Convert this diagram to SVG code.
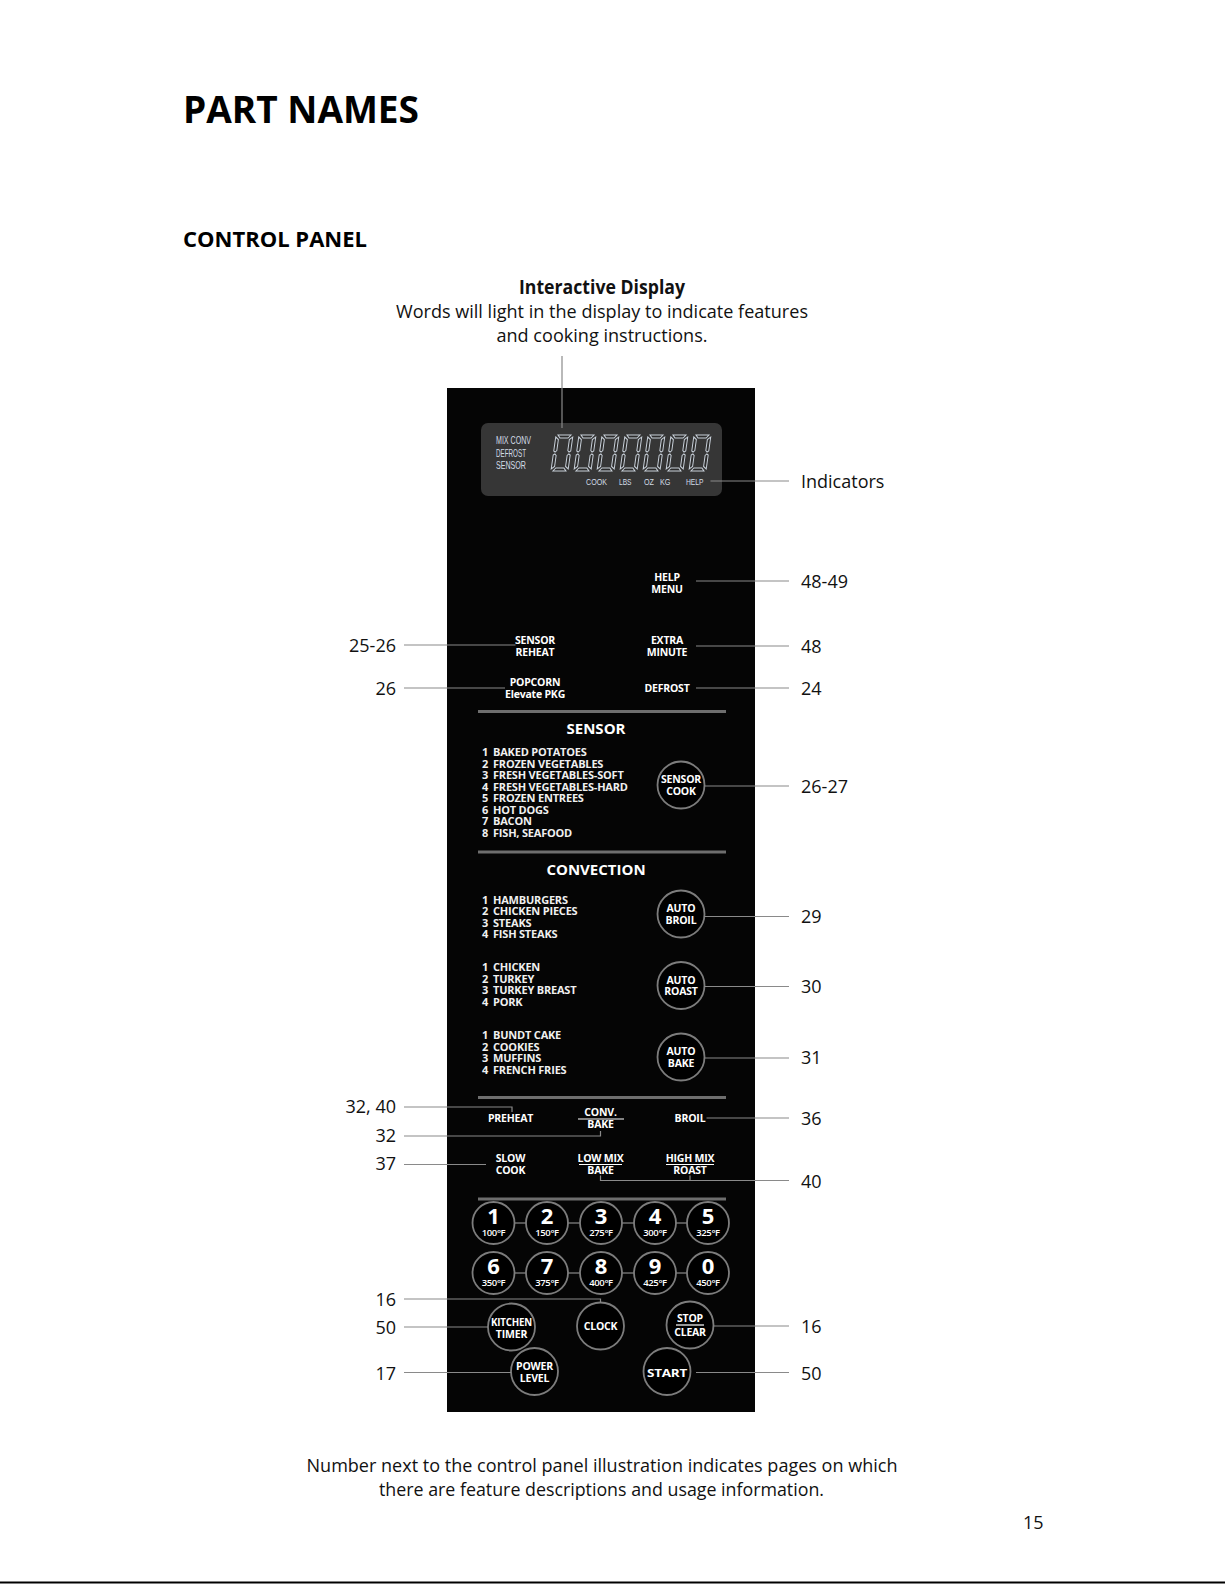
<svg xmlns="http://www.w3.org/2000/svg" width="1225" height="1585" viewBox="0 0 1225 1585">
<style>
text{font-family:"Open Sans","Noto Sans","Liberation Sans",sans-serif}
.h1{font-size:37px;font-weight:700;fill:#000}
.h2{font-size:22px;font-weight:700;fill:#000}
.cap{font-size:19px;fill:#111;text-anchor:middle}
.capb{font-size:19px;font-weight:700;fill:#111;text-anchor:middle}
.num{font-size:18px;fill:#111}
.numr{font-size:18px;fill:#111;text-anchor:end}
.pl{font-size:10.5px;font-weight:700;fill:#fff;text-anchor:middle;letter-spacing:-0.2px}
.hd{font-size:15px;font-weight:700;fill:#fff;text-anchor:middle}
.li{font-size:11px;font-weight:700;fill:#f0f0f0;letter-spacing:-0.2px}
.dg{font-size:22px;font-weight:700;fill:#fff;text-anchor:middle}
.tp{font-size:9.5px;font-weight:600;fill:#fff;text-anchor:middle;letter-spacing:-0.4px}
.ds{font-family:"Liberation Sans","DejaVu Sans Condensed",sans-serif;font-size:10.5px;fill:#d3dce6}
.dsb{font-family:"Liberation Sans","DejaVu Sans Condensed",sans-serif;font-size:9.5px;fill:#d3dce6}
.btn{fill:#000;stroke:#7c7c7c;stroke-width:1.8}
.sep{stroke:#6e6e6e;stroke-width:3}
.ul{stroke:#fff;stroke-width:1.2}
.con{fill:none;stroke:#8a8a8a;stroke-width:1.2}
.seg{fill:#2c2c2c;stroke:#c9d1da;stroke-width:1}
</style>
<defs>
<g id="digit">
<path class="seg" d="M2,0 H15 L12.5,3 H4.5 Z"/>
<path class="seg" d="M0,2 L3,4.5 V15.5 L1.5,17 L0,16 Z"/>
<path class="seg" d="M17,2 V16 L15.5,17 L14,15.5 V4.5 Z"/>
<path class="seg" d="M0,20 L1.5,19 L3,20.5 V31.5 L0,34 Z"/>
<path class="seg" d="M17,20 V34 L14,31.5 V20.5 L15.5,19 Z"/>
<path class="seg" d="M2,36 H15 L12.5,33 H4.5 Z"/>
</g>
</defs>

<rect x="0" y="0" width="1225" height="1585" fill="#fff"/>

<g id="titles">
<text class="h1" x="183" y="123" textLength="236" lengthAdjust="spacingAndGlyphs">PART NAMES</text>
<text class="h2" x="183" y="247" textLength="184" lengthAdjust="spacingAndGlyphs">CONTROL PANEL</text>
</g>

<g id="interactive-display-caption">
<text class="capb" x="602" y="294" textLength="166" lengthAdjust="spacingAndGlyphs">Interactive Display</text>
<text class="cap" x="602" y="318" textLength="412" lengthAdjust="spacingAndGlyphs">Words will light in the display to indicate features</text>
<text class="cap" x="602" y="342" textLength="211" lengthAdjust="spacingAndGlyphs">and cooking instructions.</text>
</g>

<g id="panel">
<rect x="447" y="388" width="308" height="1024" fill="#050505"/>
<line class="sep" x1="478" y1="711.5" x2="726" y2="711.5"/>
<line class="sep" x1="478" y1="852" x2="726" y2="852"/>
<line class="sep" x1="478" y1="1097.5" x2="726" y2="1097.5"/>
<line class="sep" x1="478" y1="1199" x2="726" y2="1199"/>
</g>

<g id="display">
<rect x="481" y="423" width="241" height="73" rx="7" fill="#363636"/>
<text class="ds" x="496" y="444" textLength="35" lengthAdjust="spacingAndGlyphs">MIX CONV</text>
<text class="ds" x="496" y="456.5" textLength="30" lengthAdjust="spacingAndGlyphs">DEFROST</text>
<text class="ds" x="496" y="469" textLength="30" lengthAdjust="spacingAndGlyphs">SENSOR</text>
<use href="#digit" transform="translate(556,435) skewX(-8)"/>
<use href="#digit" transform="translate(579,435) skewX(-8)"/>
<use href="#digit" transform="translate(602,435) skewX(-8)"/>
<use href="#digit" transform="translate(625,435) skewX(-8)"/>
<use href="#digit" transform="translate(648,435) skewX(-8)"/>
<use href="#digit" transform="translate(671,435) skewX(-8)"/>
<use href="#digit" transform="translate(694,435) skewX(-8)"/>
<text class="dsb" x="586" y="484.5" textLength="21" lengthAdjust="spacingAndGlyphs">COOK</text>
<text class="dsb" x="619" y="484.5" textLength="12.5" lengthAdjust="spacingAndGlyphs">LBS</text>
<text class="dsb" x="644" y="484.5" textLength="10" lengthAdjust="spacingAndGlyphs">OZ</text>
<text class="dsb" x="660" y="484.5" textLength="10.5" lengthAdjust="spacingAndGlyphs">KG</text>
<text class="dsb" x="686" y="484.5" textLength="17.5" lengthAdjust="spacingAndGlyphs">HELP</text>
</g>

<g id="help-menu"><text class="pl" x="667" y="581">HELP</text><text class="pl" x="667" y="593">MENU</text></g>
<g id="sensor-reheat"><text class="pl" x="535" y="644">SENSOR</text><text class="pl" x="535" y="656">REHEAT</text></g>
<g id="extra-minute"><text class="pl" x="667" y="644">EXTRA</text><text class="pl" x="667" y="656">MINUTE</text></g>
<g id="popcorn"><text class="pl" x="535" y="686">POPCORN</text><text class="pl" x="535" y="698">Elevate PKG</text></g>
<g id="defrost"><text class="pl" x="667" y="692">DEFROST</text></g>

<g id="sensor-section">
<text class="hd" x="596" y="734">SENSOR</text>
<text class="li" y="756"><tspan x="482">1</tspan><tspan x="493">BAKED POTATOES</tspan></text>
<text class="li" y="767.5"><tspan x="482">2</tspan><tspan x="493">FROZEN VEGETABLES</tspan></text>
<text class="li" y="779"><tspan x="482">3</tspan><tspan x="493">FRESH VEGETABLES-SOFT</tspan></text>
<text class="li" y="790.5"><tspan x="482">4</tspan><tspan x="493">FRESH VEGETABLES-HARD</tspan></text>
<text class="li" y="802"><tspan x="482">5</tspan><tspan x="493">FROZEN ENTREES</tspan></text>
<text class="li" y="813.5"><tspan x="482">6</tspan><tspan x="493">HOT DOGS</tspan></text>
<text class="li" y="825"><tspan x="482">7</tspan><tspan x="493">BACON</tspan></text>
<text class="li" y="836.5"><tspan x="482">8</tspan><tspan x="493">FISH, SEAFOOD</tspan></text>
</g>
<g id="sensor-cook"><circle class="btn" cx="681" cy="785" r="23.5"/><text class="pl" x="681" y="783">SENSOR</text><text class="pl" x="681" y="794.5">COOK</text></g>

<g id="convection-section">
<text class="hd" x="596" y="875">CONVECTION</text>
<text class="li" y="903.5"><tspan x="482">1</tspan><tspan x="493">HAMBURGERS</tspan></text>
<text class="li" y="915"><tspan x="482">2</tspan><tspan x="493">CHICKEN PIECES</tspan></text>
<text class="li" y="926.5"><tspan x="482">3</tspan><tspan x="493">STEAKS</tspan></text>
<text class="li" y="938"><tspan x="482">4</tspan><tspan x="493">FISH STEAKS</tspan></text>
<text class="li" y="971"><tspan x="482">1</tspan><tspan x="493">CHICKEN</tspan></text>
<text class="li" y="982.5"><tspan x="482">2</tspan><tspan x="493">TURKEY</tspan></text>
<text class="li" y="994"><tspan x="482">3</tspan><tspan x="493">TURKEY BREAST</tspan></text>
<text class="li" y="1005.5"><tspan x="482">4</tspan><tspan x="493">PORK</tspan></text>
<text class="li" y="1039"><tspan x="482">1</tspan><tspan x="493">BUNDT CAKE</tspan></text>
<text class="li" y="1050.5"><tspan x="482">2</tspan><tspan x="493">COOKIES</tspan></text>
<text class="li" y="1062"><tspan x="482">3</tspan><tspan x="493">MUFFINS</tspan></text>
<text class="li" y="1073.5"><tspan x="482">4</tspan><tspan x="493">FRENCH FRIES</tspan></text>
</g>
<g id="auto-broil"><circle class="btn" cx="681" cy="914" r="23.5"/><text class="pl" x="681" y="912">AUTO</text><text class="pl" x="681" y="923.5">BROIL</text></g>
<g id="auto-roast"><circle class="btn" cx="681" cy="985.5" r="23.5"/><text class="pl" x="681" y="983.5">AUTO</text><text class="pl" x="681" y="995">ROAST</text></g>
<g id="auto-bake"><circle class="btn" cx="681" cy="1057" r="23.5"/><text class="pl" x="681" y="1055">AUTO</text><text class="pl" x="681" y="1066.5">BAKE</text></g>

<g id="preheat"><text class="pl" x="510.5" y="1122">PREHEAT</text></g>
<g id="conv-bake"><text class="pl" x="600.5" y="1116">CONV.</text><line class="ul" x1="578" y1="1119" x2="624" y2="1119"/><text class="pl" x="600.5" y="1128">BAKE</text></g>
<g id="broil"><text class="pl" x="690" y="1122">BROIL</text></g>
<g id="slow-cook"><text class="pl" x="510.5" y="1162">SLOW</text><text class="pl" x="510.5" y="1173.5">COOK</text></g>
<g id="low-mix-bake"><text class="pl" x="600.5" y="1162">LOW MIX</text><line class="ul" x1="579" y1="1164.5" x2="622" y2="1164.5"/><text class="pl" x="600.5" y="1173.5">BAKE</text></g>
<g id="high-mix-roast"><text class="pl" x="690" y="1162">HIGH MIX</text><line class="ul" x1="666" y1="1164.5" x2="714" y2="1164.5"/><text class="pl" x="690" y="1173.5">ROAST</text></g>

<g id="number-links">
<line class="con" x1="514.5" y1="1223" x2="526" y2="1223"/>
<line class="con" x1="568" y1="1223" x2="580" y2="1223"/>
<line class="con" x1="622" y1="1223" x2="634" y2="1223"/>
<line class="con" x1="676" y1="1223" x2="687" y2="1223"/>
<line class="con" x1="514.5" y1="1273" x2="526" y2="1273"/>
<line class="con" x1="568" y1="1273" x2="580" y2="1273"/>
<line class="con" x1="622" y1="1273" x2="634" y2="1273"/>
<line class="con" x1="676" y1="1273" x2="687" y2="1273"/>
</g>
<g id="key-1"><circle class="btn" cx="493.5" cy="1223" r="21"/><text class="dg" x="493.5" y="1223.5">1</text><text class="tp" x="493.5" y="1236">100°F</text></g>
<g id="key-2"><circle class="btn" cx="547" cy="1223" r="21"/><text class="dg" x="547" y="1223.5">2</text><text class="tp" x="547" y="1236">150°F</text></g>
<g id="key-3"><circle class="btn" cx="601" cy="1223" r="21"/><text class="dg" x="601" y="1223.5">3</text><text class="tp" x="601" y="1236">275°F</text></g>
<g id="key-4"><circle class="btn" cx="655" cy="1223" r="21"/><text class="dg" x="655" y="1223.5">4</text><text class="tp" x="655" y="1236">300°F</text></g>
<g id="key-5"><circle class="btn" cx="708" cy="1223" r="21"/><text class="dg" x="708" y="1223.5">5</text><text class="tp" x="708" y="1236">325°F</text></g>
<g id="key-6"><circle class="btn" cx="493.5" cy="1273" r="21"/><text class="dg" x="493.5" y="1273.5">6</text><text class="tp" x="493.5" y="1286">350°F</text></g>
<g id="key-7"><circle class="btn" cx="547" cy="1273" r="21"/><text class="dg" x="547" y="1273.5">7</text><text class="tp" x="547" y="1286">375°F</text></g>
<g id="key-8"><circle class="btn" cx="601" cy="1273" r="21"/><text class="dg" x="601" y="1273.5">8</text><text class="tp" x="601" y="1286">400°F</text></g>
<g id="key-9"><circle class="btn" cx="655" cy="1273" r="21"/><text class="dg" x="655" y="1273.5">9</text><text class="tp" x="655" y="1286">425°F</text></g>
<g id="key-0"><circle class="btn" cx="708" cy="1273" r="21"/><text class="dg" x="708" y="1273.5">0</text><text class="tp" x="708" y="1286">450°F</text></g>

<g id="kitchen-timer"><circle class="btn" cx="511.5" cy="1327" r="23.5"/><text class="pl" x="511.5" y="1326" textLength="41" lengthAdjust="spacingAndGlyphs">KITCHEN</text><text class="pl" x="511.5" y="1338">TIMER</text></g>
<g id="clock"><circle class="btn" cx="600.5" cy="1326" r="23.5"/><text class="pl" x="600.5" y="1330" font-size="11">CLOCK</text></g>
<g id="stop-clear"><circle class="btn" cx="690" cy="1325" r="23.5"/><text class="pl" x="690" y="1322">STOP</text><line class="ul" x1="676" y1="1325" x2="704" y2="1325"/><text class="pl" x="690" y="1336">CLEAR</text></g>
<g id="power-level"><circle class="btn" cx="534.5" cy="1371.5" r="23.5"/><text class="pl" x="534.5" y="1369.5">POWER</text><text class="pl" x="534.5" y="1381.5">LEVEL</text></g>
<g id="start"><circle class="btn" cx="667" cy="1371.5" r="23.5"/><text class="pl" x="667" y="1376.5" font-size="14" textLength="40" lengthAdjust="spacingAndGlyphs">START</text></g>

<g id="connectors">
<path class="con" d="M562,356 V428"/>
<path class="con" d="M710.5,481 H789"/>
<path class="con" d="M696,581 H789"/>
<path class="con" d="M696,646 H789"/>
<path class="con" d="M696,688 H789"/>
<path class="con" d="M404,645 H515.5"/>
<path class="con" d="M404,688 H505"/>
<path class="con" d="M704.5,786 H789"/>
<path class="con" d="M704.5,916.5 H789"/>
<path class="con" d="M704.5,986.5 H789"/>
<path class="con" d="M704.5,1058 H789"/>
<path class="con" d="M404,1107 H512 V1112"/>
<path class="con" d="M404,1136 H600.5 V1131"/>
<path class="con" d="M706.5,1118 H789"/>
<path class="con" d="M404,1164.5 H486"/>
<path class="con" d="M600.5,1175.5 V1180.5 H789 M690,1175.5 V1180.5"/>
<path class="con" d="M404,1299 H600.5 V1302.5"/>
<path class="con" d="M404,1327 H488"/>
<path class="con" d="M404,1372.5 H511"/>
<path class="con" d="M713.5,1326 H789"/>
<path class="con" d="M696,1372.5 H789"/>
</g>

<g id="page-refs">
<text class="num" x="801" y="488">Indicators</text>
<text class="num" x="801" y="588">48-49</text>
<text class="num" x="801" y="653">48</text>
<text class="num" x="801" y="695">24</text>
<text class="num" x="801" y="793">26-27</text>
<text class="num" x="801" y="923">29</text>
<text class="num" x="801" y="993">30</text>
<text class="num" x="801" y="1064">31</text>
<text class="num" x="801" y="1125">36</text>
<text class="num" x="801" y="1187.5">40</text>
<text class="num" x="801" y="1333">16</text>
<text class="num" x="801" y="1379.5">50</text>
<text class="numr" x="396" y="652">25-26</text>
<text class="numr" x="396" y="695">26</text>
<text class="numr" x="396" y="1113">32, 40</text>
<text class="numr" x="396" y="1142">32</text>
<text class="numr" x="396" y="1170">37</text>
<text class="numr" x="396" y="1306">16</text>
<text class="numr" x="396" y="1334">50</text>
<text class="numr" x="396" y="1379.5">17</text>
</g>

<g id="footer">
<text class="cap" x="602" y="1471.5" font-size="18" textLength="591" lengthAdjust="spacingAndGlyphs">Number next to the control panel illustration indicates pages on which</text>
<text class="cap" x="601.5" y="1496" font-size="18" textLength="445" lengthAdjust="spacingAndGlyphs">there are feature descriptions and usage information.</text>
<text class="num" x="1023" y="1529">15</text>
<line x1="0" y1="1582.5" x2="1225" y2="1582.5" stroke="#000" stroke-width="2"/>
</g>
</svg>
